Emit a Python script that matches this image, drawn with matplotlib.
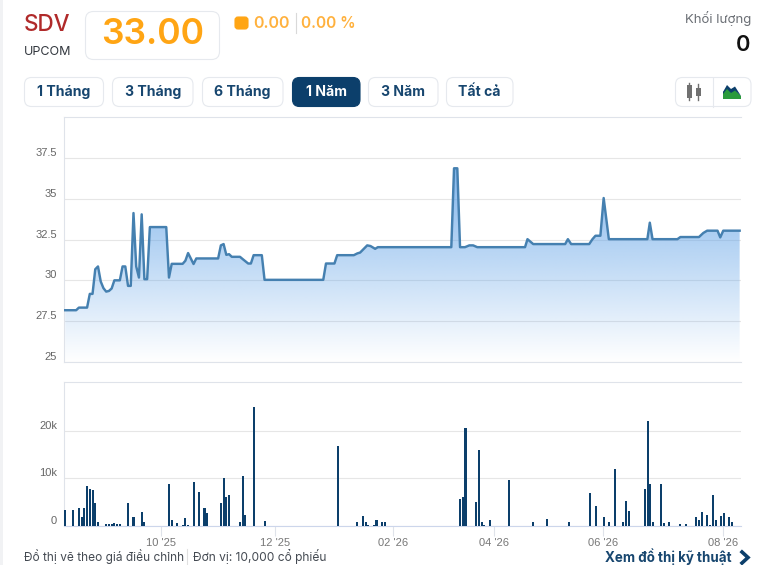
import numpy as np
import matplotlib
matplotlib.use("Agg")
import matplotlib.pyplot as plt
from matplotlib.patches import FancyBboxPatch, Rectangle, Polygon
from matplotlib.colors import to_rgb
from matplotlib.transforms import ScaledTranslation

# ---------- data ----------
price_session = [0,4,5,8,9,10,11,12,13,14,15,16,17,18,20,21,22,23,24,25,26,27,28,29,30,31,37,38,39,43,44,45,47,48,56,57,58,59,60,61,64,65,67,68,69,72,73,
                 94.5,95.5,98.6,99.6,105.7,107,108,110.6,111.8,113.5,114.5,141.4,142.4,143.6,144.6,146.4,148,149.4,150.9,168.4,169.3,171.4,183.1,184.1,185.3,191.9,193.1,194.2,196,197.2,199.1,213.2,214.1,215.1,224.2,225.3,232.1,233.7,235.1,238.9,239.9,241,247]
price_value = [28.17,28.17,28.33,28.33,29.17,29.17,30.68,30.85,29.93,29.52,29.31,29.35,29.5,30.0,30.0,30.85,30.85,29.66,29.66,34.12,30.85,30.17,34.04,30.07,30.07,33.26,33.26,30.17,31.01,31.01,31.2,31.67,31.0,31.34,31.34,32.14,32.22,31.56,31.6,31.44,31.44,31.3,31.03,31.03,31.54,31.54,30.03,
               30.03,31.03,31.03,31.54,31.54,31.65,31.7,32.14,32.1,31.93,32.03,32.03,36.86,36.86,32.03,32.03,32.14,32.14,32.03,32.03,32.52,32.22,32.22,32.52,32.22,32.22,32.52,32.73,32.73,35.04,32.52,32.52,33.53,32.52,32.52,32.65,32.65,32.9,33.04,33.04,32.63,33.04,33.04]
vol_session = [0,3,5,6,7,8,9,10,11,12,15,16,17,18,19,20,23,25,28,29,38,39,41,43,44,45,47,49,51,52,57,58,59,60,64,65,66,69,73,
               100,107,109,110,111,113,114,116,117,144.6,145.6,146.6,150.4,151.5,152.6,153.4,155.5,162.5,171.3,176.4,184.5,192.2,194.4,197.3,199.1,201.3,204.3,205.4,206.5,212.3,213.4,214.3,215.3,218.2,219.3,221.1,225.1,227.3,231,232.1,233.2,235,236.1,237.2,238.3,240.2,241.3,243.1,244.2]
vol_value = [3.44,3.44,3.86,1.96,3.86,8.42,7.86,7.65,4.9,0.9,0.4,0.35,0.4,0.7,0.35,0.5,4.9,1.96,3.0,0.9,8.9,1.3,0.7,0.2,1.75,0.2,9.3,7.2,3.86,2.8,4.9,10.1,6.0,6.6,0.9,10.6,2.4,25.1,1.1,
             16.9,0.9,2.2,0.9,0.28,0.28,1.33,0.9,0.9,5.75,6.0,20.7,5.1,15.9,0.9,0.28,1.33,9.75,0.9,1.54,0.9,7.0,4.3,1.96,0.9,12.07,0.9,5.33,3.2,7.86,22.0,8.9,0.9,8.9,0.63,0.9,0.4,0.4,1.96,1.33,3.0,2.4,0.2,6.6,1.33,2.2,2.8,1.96,0.9]
price_ticks = [25,27.5,30,32.5,35,37.5]
price_labels = ['25','27.5','30','32.5','35','37.5']
vol_ticks = [0,10,20]
vol_labels = ['0','10k','20k']
date_sessions = [35,77,120,157,197,241]
date_labels = ["10 '25","12 '25","02 '26","04 '26","06 '26","08 '26"]
range_buttons = ['1 Tháng','3 Tháng','6 Tháng','1 Năm','3 Năm','Tất cả']

W, H = 759, 565
NAVY = '#0c3f6b'
ORANGE = '#ffa514'
GRID = '#e6e6e6'
AXC = '#dfe3ea'
UI = 'Inter'
TICK = 'Liberation Sans'

fig = plt.figure(figsize=(W/100, H/100), dpi=100, facecolor='white')

def box(l, t, r, b):
    return [l/W, 1-b/H, (r-l)/W, (b-t)/H]

xlim = (-0.45, 247.5)
ax = fig.add_axes(box(64, 117, 741, 362))
av = fig.add_axes(box(64, 382, 741, 526))

for a in (ax, av):
    a.set_xlim(*xlim)
    a.set_axisbelow(True)
    a.grid(axis='y', color=GRID, lw=0.8)
    a.spines['right'].set_visible(False)
    for s in ('top', 'left', 'bottom'):
        a.spines[s].set_color(AXC)
        a.spines[s].set_linewidth(0.8)

def lift_labels(axis_obj):
    shift = ScaledTranslation(0, 6/100, fig.dpi_scale_trans)
    for t in axis_obj.get_yticklabels():
        t.set_fontfamily(TICK)
        t.set_transform(t.get_transform() + shift)

# price panel
ax.set_ylim(25, 40)
ax.set_yticks(price_ticks, price_labels)
ax.set_xticks([])
ax.tick_params(axis='y', length=0, pad=5, labelsize=8, labelcolor='#666666')
lift_labels(ax)

grad = np.zeros((256, 2, 4))
grad[..., :3] = to_rgb('#599ee6')
grad[..., 3] = np.linspace(0.75, 0, 256)[:, None]
top = max(price_value)
img = ax.imshow(grad, extent=(xlim[0], xlim[1], 25, top), origin='upper',
                aspect='auto', zorder=2, interpolation='bilinear')
ax.set_xlim(*xlim); ax.set_ylim(25, 40)
poly = Polygon(list(zip(price_session, price_value)) + [(price_session[-1], 25), (price_session[0], 25)],
               closed=True, transform=ax.transData, fc='none', ec='none')
ax.add_patch(poly)
img.set_clip_path(poly)
ax.plot(price_session, price_value, color='#4580b0', lw=1.75, zorder=3, solid_joinstyle='round')

# volume panel
av.set_ylim(0, 30.3)
av.bar(vol_session, vol_value, width=0.75, color=NAVY, zorder=3)
av.set_yticks(vol_ticks, vol_labels)
av.set_xticks(date_sessions, date_labels)
av.tick_params(axis='y', length=0, pad=5, labelsize=8, labelcolor='#666666')
av.tick_params(axis='x', length=7, width=0.8, color=AXC, pad=2, labelsize=8, labelcolor='#777777')
lift_labels(av)
for t in av.get_xticklabels():
    t.set_fontfamily(TICK)
av.spines['bottom'].set_color('#ccd6eb')

# page furniture, drawn in pixel coordinates
ui = fig.add_axes([0, 0, 1, 1], facecolor='none', zorder=5)
ui.set_xlim(0, W); ui.set_ylim(H, 0); ui.axis('off')

def rbox(l, t, r, b, rad=7, fc='white', ec='#e6e9ee', lw=0.8):
    ui.add_patch(FancyBboxPatch((l+rad, t+rad), r-l-2*rad, b-t-2*rad,
                                boxstyle=f'round,pad={rad},rounding_size={rad}',
                                fc=fc, ec=ec, lw=lw))

def txt(x, y, s, size, color, weight='normal', ha='left', family=UI):
    ui.text(x, y, s, fontsize=size*0.72, color=color, fontweight=weight, ha=ha, va='center', family=family)

ui.add_patch(Rectangle((0, 0), 3, H, fc='#f1f2f4', ec='none'))
txt(24, 25, 'SDV', 22.5, '#b02a2a', 'medium')
txt(24, 52, 'UPCOM', 12.5, '#33383f')
rbox(85.5, 11.5, 219.5, 59.5, rad=8)
txt(152.5, 34, '33.00', 35.5, ORANGE, 'semibold', ha='center')
rbox(235, 17, 248, 29, rad=3, fc=ORANGE, ec=ORANGE)
txt(253, 23.5, '0.00', 16, '#ffb13d', 'semibold')
ui.plot([295.5, 295.5], [13, 33], color='#d9d9d9', lw=0.8)
txt(301, 23.5, '0.00 %', 15.5, '#ffb13d', 'semibold')
txt(751, 19, 'Khối lượng', 13.2, '#6b6f75', ha='right')
txt(750.5, 45, '0', 22, '#111111', 'semibold', ha='right')

btn_edges = [(24.5, 103.5), (112.5, 193), (202.5, 283), (292.5, 360), (368.5, 438), (446.5, 513)]
for (l, r), s in zip(btn_edges, range_buttons):
    active = s == '1 Năm'
    rbox(l, 77.5, r, 106.5, rad=7, fc=NAVY if active else 'white', ec=NAVY if active else '#e6e9ee')
    txt((l+r)/2, 92, s, 14, 'white' if active else '#17466f', 'bold', ha='center')

rbox(675.5, 77.5, 751, 106.5, rad=7)
ui.plot([713, 713], [77.5, 106.5], color='#e6e9ee', lw=0.8)
# candle icon
for x, y0, y1, b0, b1 in [(689, 83, 100, 85, 98), (698, 84, 100, 88, 96)]:
    ui.plot([x, x], [y0, y1], color='#707070', lw=1)
    ui.add_patch(Rectangle((x-2.5, b0), 5, b1-b0, fc='#707070', ec='none'))
# mountain icon
ui.add_patch(Polygon([(723, 99), (723, 92), (727, 88), (731, 92), (735, 89.5), (741, 96), (741, 99)], fc='#2a9a3c', ec='none'))
ui.add_patch(Polygon([(723, 92), (727, 85), (731, 89), (735, 86.5), (741, 96), (735, 90.5), (731, 93), (727, 89), (723, 94)], fc=NAVY, ec='none'))

txt(24, 556.5, 'Đồ thị vẽ theo giá điều chỉnh', 11.85, '#444a52')
ui.plot([187, 187], [549, 565], color='#e0e0e0', lw=0.8)
txt(193, 556.5, 'Đơn vị: 10,000 cổ phiếu', 12, '#444a52')
txt(731.5, 557, 'Xem đồ thị kỹ thuật', 13.4, '#17466f', 'bold', ha='right')
ui.plot([742, 748, 742], [552, 557.5, 563], color='#0c3f6b', lw=2.6, solid_joinstyle='miter')

fig.savefig('out.png', dpi=100)
